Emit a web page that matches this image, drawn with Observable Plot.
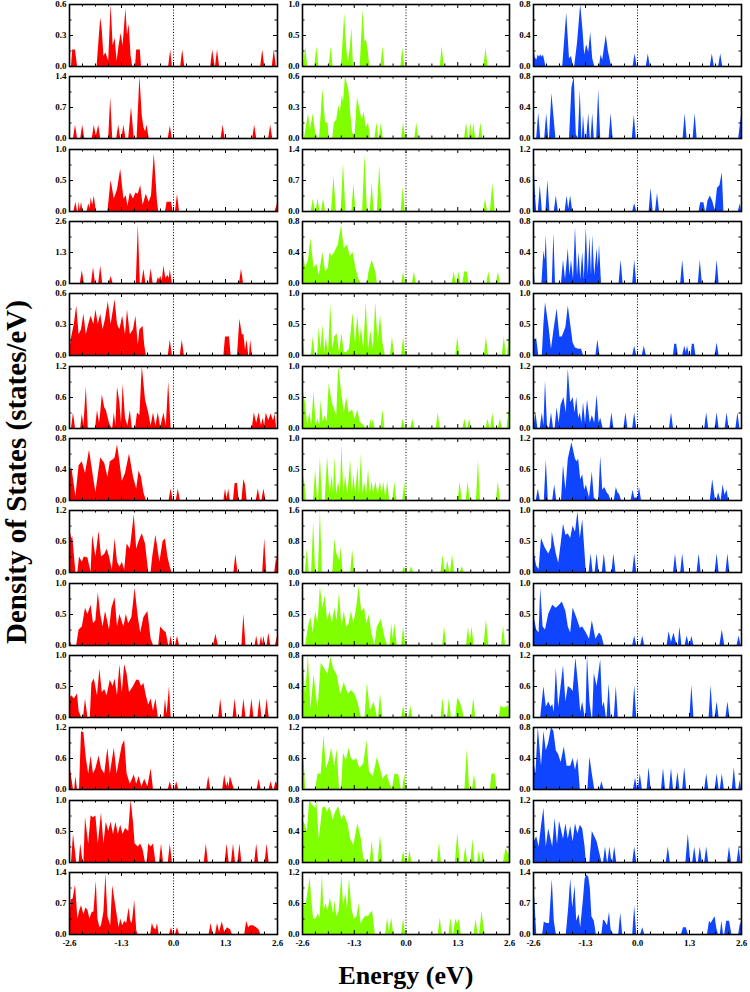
<!DOCTYPE html>
<html><head><meta charset="utf-8">
<script src="https://cdn.jsdelivr.net/npm/d3@7"></script>
<script src="https://cdn.jsdelivr.net/npm/@observablehq/plot@0.6"></script>
<style>
body{margin:0;background:#fff;}
#wrap{position:relative;width:750px;height:992px;overflow:hidden;font-family:"Liberation Serif","Times New Roman",serif;color:#000;}
.cell{position:absolute;}
.ylab{position:absolute;left:16px;top:472px;transform:translate(-50%,-50%) rotate(-90deg);font-weight:bold;font-size:29px;line-height:1;white-space:nowrap;}
.xlab{position:absolute;left:406px;top:976px;transform:translate(-50%,-50%);font-weight:bold;font-size:26px;line-height:1;white-space:nowrap;}
</style></head><body><div id="wrap"></div>
<script>
// Energy axis ticks (eV)
const energyTicks = [-2.6, -1.3, 0.0, 1.3, 2.6];
const minorEnergyTicks = [-2.275, -1.95, -1.625, -0.975, -0.65, -0.325, 0.325, 0.65, 0.975, 1.625, 1.95, 2.275];

// Axis maxima of each panel (states/eV), rows top to bottom
const redMax   = [0.6, 1.4, 1.0, 2.6, 0.6, 1.2, 0.8, 1.2, 1.0, 1.0, 1.2, 1.0, 1.4];
const greenMax = [1.0, 0.6, 1.4, 0.8, 1.0, 1.0, 1.0, 1.6, 1.0, 0.8, 1.2, 0.8, 1.2];
const blueMax  = [0.8, 0.8, 1.2, 0.8, 1.0, 1.2, 1.2, 1.0, 1.0, 1.2, 0.8, 1.2, 1.4];

// DOS curves: "energy,dos" vertices
const redDOS = [
"-2.55,0 -2.52,.16 -2.45,.16 -2.4,0 -1.91,0 -1.82,.47 -1.78,.35 -1.74,.1 -1.69,.13 -1.62,.05 -1.56,.6 -1.51,.2 -1.46,.27 -1.41,.05 -1.36,.2 -1.31,.32 -1.26,.2 -1.19,.56 -1.15,.3 -1.11,.41 -1.06,.1 -1.02,0 -.95,0 -.92,.16 -.83,.16 -.8,0 -.12,0 -.07,.16 -.03,0 .18,0 .23,.16 .28,0 .93,0 .98,.16 1.04,0 1.05,0 1.1,.16 1.15,0 2.18,0 2.23,.16 2.28,0 2.47,0 2.52,.16 2.57,0",
"-2.6,.15 -2.57,0 -2.5,0 -2.45,.3 -2.4,0 -2.32,0 -2.27,.3 -2.22,0 -2.03,0 -1.98,.3 -1.93,.05 -1.87,.3 -1.82,0 -1.62,0 -1.57,.92 -1.52,0 -1.42,0 -1.37,.3 -1.32,0 -1.29,0 -1.24,.3 -1.19,0 -1.12,0 -1.05,.7 -.98,0 -.91,0 -.84,1.4 -.78,.5 -.74,.25 -.7,.15 -.66,.3 -.61,0 -.13,0 -.08,.28 -.03,0 1.19,0 1.24,.3 1.29,0 1.98,0 2.03,.3 2.08,0 2.38,0 2.43,.3 2.48,0",
"-2.6,.15 -2.57,0 -2.49,0 -2.44,.15 -2.4,0 -2.38,0 -2.36,.15 -2.33,.02 -2.3,.15 -2.26,0 -2.16,0 -2.12,.12 -2.08,.05 -2.06,.22 -2.02,.1 -1.98,.25 -1.93,0 -1.64,0 -1.56,.5 -1.48,.2 -1.4,.35 -1.32,.68 -1.24,.2 -1.18,.25 -1.14,.08 -1.08,.3 -1,.2 -.94,.3 -.88,.28 -.82,.42 -.76,.1 -.68,.28 -.61,.15 -.55,.25 -.48,.93 -.4,.15 -.37,0 -.2,0 -.16,.15 -.05,.15 -.01,0 .05,0 .1,.28 .15,0 2.54,0 2.6,.12",
"-2.33,0 -2.28,.53 -2.23,0 -2.05,0 -2,.66 -1.95,0 -1.87,0 -1.82,.73 -1.77,0 -1.61,0 -1.56,.29 -1.51,0 -.93,0 -.88,2.46 -.83,0 -.79,0 -.74,.6 -.69,0 -.61,0 -.56,.6 -.51,0 -.42,0 -.38,.25 -.35,.15 -.32,.3 -.28,.1 -.24,.73 -.19,.2 -.14,.35 -.11,.2 -.08,.57 -.03,0 1.65,0 1.7,.6 1.75,0",
"-2.6,0 -2.56,.15 -2.48,.3 -2.42,.48 -2.36,.2 -2.3,.25 -2.24,.4 -2.18,.2 -2.12,.3 -2.06,.38 -1.99,.3 -1.94,.44 -1.88,.3 -1.82,.4 -1.76,.25 -1.7,.35 -1.63,.52 -1.56,.3 -1.46,.54 -1.4,.3 -1.34,.25 -1.27,.38 -1.2,.2 -1.15,.44 -1.08,.2 -1,.25 -.94,.38 -.88,.1 -.84,.25 -.76,.28 -.72,.1 -.68,0 -.13,0 -.08,.15 -.03,0 .17,0 .22,.15 .27,0 1.26,0 1.3,.18 1.4,.18 1.44,0 1.6,0 1.66,.35 1.72,.2 1.76,.2 1.8,.05 1.84,.15 1.88,0 1.9,0 1.93,.15 1.97,0",
"-2.55,0 -2.5,.3 -2.45,0 -2.32,0 -2.28,.28 -2.24,.05 -2.18,.8 -2.13,0 -1.95,0 -1.9,.35 -1.85,.1 -1.82,.3 -1.78,.65 -1.72,.4 -1.68,.35 -1.6,.1 -1.54,0 -1.52,0 -1.48,.3 -1.44,.05 -1.4,.8 -1.34,.5 -1.3,.1 -1.26,.85 -1.2,.2 -1.14,.05 -1.08,.35 -1.03,0 -.95,0 -.9,.3 -.84,.25 -.78,1.2 -.7,.55 -.62,.3 -.56,.05 -.5,.3 -.44,.05 -.38,.3 -.32,.02 -.24,.3 -.18,.05 -.12,.9 -.06,0 1.97,0 2.02,.3 2.08,.1 2.14,.3 2.2,.05 2.24,.2 2.28,.05 2.32,.3 2.38,.15 2.44,.28 2.5,.15 2.54,.28 2.58,0",
"-2.6,.38 -2.54,.42 -2.48,.2 -2.44,.05 -2.36,.45 -2.28,.5 -2.2,.35 -2.1,.65 -2,.3 -1.94,.1 -1.82,.55 -1.72,.48 -1.64,.3 -1.58,.5 -1.52,.52 -1.46,.55 -1.4,.72 -1.34,.5 -1.28,.25 -1.2,.35 -1.1,.6 -1,.3 -.92,.15 -.86,.38 -.8,.3 -.74,.1 -.68,0 -.11,0 -.06,.15 -.01,0 .07,0 .12,.15 .17,0 1.26,0 1.3,.15 1.34,.02 1.38,.15 1.42,0 1.5,0 1.54,.22 1.6,.22 1.64,0 1.71,0 1.76,.27 1.8,.2 1.84,0 2.07,0 2.12,.15 2.17,0 2.21,0 2.26,.15 2.31,0",
"-2.6,.85 -2.54,.65 -2.52,.7 -2.44,0 -2.39,0 -2.35,.3 -2.28,.2 -2.23,.3 -2.14,.28 -2.06,0 -2.02,.72 -1.94,.3 -1.86,.8 -1.8,.3 -1.72,.35 -1.66,.45 -1.6,.3 -1.53,.05 -1.46,.65 -1.4,.2 -1.34,.1 -1.28,.2 -1.22,.05 -1.16,.55 -1.08,.45 -.98,1.12 -.92,.45 -.86,.6 -.78,.75 -.7,.55 -.62,0 -.56,0 -.52,.3 -.44,.72 -.34,.2 -.26,.6 -.2,.65 -.14,.3 -.08,.1 -.04,0 1.51,0 1.56,.35 1.61,0 2.23,0 2.28,.65 2.33,0 2.53,0 2.58,.3 2.6,.2",
"-2.6,.1 -2.54,0 -2.42,0 -2.36,.25 -2.28,.3 -2.2,.6 -2.14,.5 -2.06,.65 -2,.35 -1.94,.4 -1.88,.85 -1.82,.5 -1.76,.3 -1.7,.55 -1.6,.25 -1.54,.6 -1.46,.77 -1.4,.3 -1.34,.5 -1.24,.3 -1.18,.5 -1.12,.35 -1.04,.45 -.96,.92 -.88,.45 -.82,.2 -.74,.45 -.64,.55 -.56,.1 -.5,0 -.37,0 -.32,.3 -.26,.25 -.18,.2 -.12,0 -.1,0 -.06,.15 -.02,0 .05,0 .1,.15 .15,0 1,0 1.06,.18 1.12,0 1.71,0 1.76,.5 1.81,0 2.04,0 2.08,.15 2.12,0 2.16,0 2.2,.15 2.23,.02 2.26,.15 2.3,0 2.34,0 2.38,.2 2.43,0 2.55,0 2.6,.15",
"-2.6,.3 -2.54,.35 -2.48,.3 -2.4,.38 -2.36,.1 -2.3,0 -2.25,0 -2.2,.3 -2.14,0 -2.08,0 -2.04,.55 -1.98,.62 -1.9,.35 -1.84,.78 -1.78,.4 -1.72,.45 -1.66,.35 -1.58,.6 -1.51,.5 -1.46,.62 -1.4,.35 -1.34,.85 -1.28,.4 -1.22,.85 -1.16,.7 -1.1,.4 -1,.5 -.92,.6 -.86,.6 -.8,.5 -.74,.55 -.68,.35 -.62,.2 -.56,.3 -.5,.1 -.44,.3 -.38,0 -.24,0 -.2,.3 -.16,.05 -.1,.5 -.06,0 1.13,0 1.18,.3 1.23,0 1.49,0 1.54,.3 1.59,0 1.71,0 1.76,.3 1.81,0 1.91,0 1.96,.3 2.01,0 2.11,0 2.16,.3 2.21,0 2.29,0 2.34,.3 2.39,0",
"-2.6,.5 -2.54,.2 -2.5,0 -2.47,0 -2.44,.25 -2.4,0 -2.35,0 -2.3,1.12 -2.24,1.1 -2.18,.6 -2.12,.3 -2.06,.65 -2,.3 -1.94,.4 -1.86,.65 -1.8,.4 -1.72,.3 -1.64,.8 -1.58,.3 -1.48,.8 -1.41,.3 -1.34,.6 -1.28,.85 -1.22,.95 -1.16,.3 -1.08,.1 -.98,.28 -.92,.1 -.86,.25 -.79,.05 -.72,.2 -.64,.05 -.56,.4 -.5,0 -.13,0 -.08,.15 -.03,0 .03,0 .08,.15 .13,0 .83,0 .88,.25 .93,0 1.23,0 1.28,.28 1.33,.05 1.36,.15 1.39,.05 1.42,.25 1.48,.1 1.52,0 2.09,0 2.14,.2 2.19,0 2.39,0 2.44,.15 2.49,0 2.52,0 2.56,.15 2.6,.1",
"-2.55,0 -2.5,.45 -2.42,0 -2.36,0 -2.32,.3 -2.26,0 -2.24,0 -2.2,.72 -2.12,.3 -2.06,.75 -2,.72 -1.94,.75 -1.88,.3 -1.8,.8 -1.74,.3 -1.68,.65 -1.62,.5 -1.56,.65 -1.5,.45 -1.44,.65 -1.38,.45 -1.32,.6 -1.26,.45 -1.2,.55 -1.12,.5 -1.06,1 -1,.65 -.96,.3 -.88,.25 -.82,.3 -.76,.2 -.7,0 -.66,0 -.62,.3 -.56,.25 -.5,.3 -.44,0 -.35,0 -.3,.3 -.25,0 -.13,0 -.08,.3 -.03,0 .77,0 .82,.3 .87,0 1.29,0 1.34,.3 1.39,0 1.45,0 1.5,.3 1.55,0 1.61,0 1.66,.3 1.71,0 2.03,0 2.08,.3 2.13,0 2.29,0 2.34,.3 2.39,0",
"-2.6,.2 -2.56,.78 -2.51,.8 -2.45,1.12 -2.39,.35 -2.34,.55 -2.3,.65 -2.24,.45 -2.19,.6 -2.14,.55 -2.09,.35 -2.03,.5 -1.99,.5 -1.93,1.2 -1.89,.35 -1.84,.15 -1.8,.2 -1.74,.5 -1.69,1.36 -1.64,.4 -1.57,.2 -1.52,1.1 -1.47,.8 -1.42,.5 -1.36,.15 -1.32,.35 -1.27,.2 -1.22,.3 -1.17,.25 -1.11,.6 -1.07,.3 -1.03,.25 -.97,.77 -.92,.1 -.89,0 -.57,0 -.53,.25 -.49,.15 -.44,.1 -.4,.25 -.36,0 -.1,0 -.05,.15 0,0 .05,0 .1,.15 .15,0 .89,0 .94,.25 .99,0 1.05,0 1.1,.25 1.15,.05 1.22,.28 1.28,.05 1.35,.15 1.43,.1 1.47,0 1.78,0 1.83,.3 1.88,.15 1.92,.2 2,.2 2.08,.15 2.14,.1 2.18,0"
];
const greenDOS = [
"-2.57,0 -2.52,.32 -2.47,0 -2.29,0 -2.24,.32 -2.19,0 -1.93,0 -1.88,.32 -1.83,0 -1.62,0 -1.54,.85 -1.49,.3 -1.45,.05 -1.4,.3 -1.36,.62 -1.32,0 -1.15,0 -1.08,.9 -1.03,.4 -.99,.42 -.95,.25 -.91,0 -.63,0 -.58,.32 -.53,0 -.13,0 -.08,.3 -.03,0 .86,0 .91,.32 .96,0 1.96,0 2.01,.3 2.06,0",
"-2.55,0 -2.45,.24 -2.4,.08 -2.33,.24 -2.27,.05 -2.2,0 -2.17,0 -2.09,.48 -2.02,.15 -1.96,.15 -1.93,0 -1.84,0 -1.8,.15 -1.74,.18 -1.69,.32 -1.65,.25 -1.6,.42 -1.57,.35 -1.52,.6 -1.47,.52 -1.43,.45 -1.39,.25 -1.34,.05 -1.28,.02 -1.22,.4 -1.16,.28 -1.1,.18 -1.05,.26 -1,.1 -.94,.15 -.89,0 -.78,0 -.73,.15 -.68,0 -.67,0 -.62,.15 -.57,0 -.11,0 -.06,.15 -.01,0 .22,0 .27,.15 .32,0 1.47,0 1.52,.15 1.57,0 1.59,0 1.63,.15 1.67,.02 1.7,.15 1.75,0 1.83,0 1.88,.15 1.93,0",
"-2.38,0 -2.33,.28 -2.28,0 -2.26,0 -2.21,.28 -2.16,0 -2.12,0 -2.07,.28 -2.02,0 -1.87,0 -1.81,.8 -1.75,0 -1.63,0 -1.57,1.08 -1.51,0 -1.36,0 -1.31,.63 -1.26,0 -1.09,0 -1.03,1.28 -.97,0 -.9,0 -.85,.63 -.8,0 -.72,0 -.66,1.05 -.6,0 -.12,0 -.07,.55 -.02,0 1.95,0 2,.28 2.05,0 2.12,0 2.18,.63 2.24,0",
"-2.6,.3 -2.58,.4 -2.52,.2 -2.45,.3 -2.39,.58 -2.31,.2 -2.24,.25 -2.18,.1 -2.09,.4 -2.02,.15 -1.95,.2 -1.91,.4 -1.86,.35 -1.79,.4 -1.7,.5 -1.62,.75 -1.55,.45 -1.47,.5 -1.4,.35 -1.33,.4 -1.26,.2 -1.18,.05 -1.12,0 -.97,0 -.93,.15 -.85,.3 -.76,.15 -.72,0 -.11,0 -.06,.15 -.01,0 .16,0 .21,.15 .26,0 1.16,0 1.21,.15 1.26,0 1.28,0 1.33,.15 1.38,0 1.43,0 1.47,.15 1.54,.15 1.58,0 2.03,0 2.08,.15 2.13,0 2.27,0 2.32,.15 2.37,0",
"-2.6,.15 -2.58,.3 -2.54,0 -2.38,0 -2.33,.3 -2.28,0 -2.22,0 -2.18,.45 -2.13,.1 -2.09,.5 -2.04,.05 -2,.3 -1.95,0 -1.89,.82 -1.84,.1 -1.79,.3 -1.73,.35 -1.67,.05 -1.61,.35 -1.55,.05 -1.49,.05 -1.42,.1 -1.33,.68 -1.27,.2 -1.21,.65 -1.16,.2 -1.12,.45 -1.06,.1 -1,.85 -.94,.1 -.88,.4 -.82,.1 -.76,.85 -.7,.2 -.64,.65 -.58,.2 -.52,0 -.39,0 -.34,.3 -.29,0 -.11,0 -.06,.3 -.01,0 1.25,0 1.3,.3 1.35,0 1.97,0 2.02,.3 2.07,0 2.42,0 2.47,.3 2.52,0 2.55,0 2.59,.3 2.6,.2",
"-2.6,.3 -2.58,.6 -2.52,.4 -2.47,.05 -2.42,.25 -2.37,.05 -2.31,.6 -2.26,.05 -2.21,.15 -2.17,.05 -2.13,.45 -2.08,.1 -2.03,.2 -1.98,.1 -1.93,.72 -1.85,.4 -1.79,.3 -1.74,.2 -1.69,1 -1.62,.6 -1.55,.25 -1.49,.5 -1.43,.25 -1.34,.3 -1.28,.15 -1.21,.3 -1.15,.1 -1.06,.05 -1,0 -.92,0 -.88,.15 -.85,.05 -.82,.15 -.78,0 -.63,0 -.58,.3 -.53,0 -.12,0 -.07,.15 -.02,0 .12,0 .17,.15 .22,0 .76,0 .81,.25 .86,0 1.43,0 1.48,.15 1.53,0 1.55,0 1.6,.15 1.65,0 2.01,0 2.06,.15 2.11,0 2.13,0 2.18,.25 2.23,0 2.32,0 2.37,.15 2.42,0 2.54,0 2.59,.3 2.6,.25",
"-2.6,0 -2.56,.4 -2.5,0 -2.32,0 -2.27,.5 -2.22,0 -2.2,0 -2.15,.7 -2.1,0 -2.03,0 -1.97,.7 -1.91,.1 -1.85,.4 -1.82,.1 -1.79,.7 -1.74,.1 -1.69,.3 -1.65,.1 -1.61,.88 -1.56,.1 -1.52,.4 -1.46,.1 -1.39,.65 -1.35,.1 -1.31,.4 -1.26,.1 -1.21,.55 -1.17,.1 -1.12,.75 -1.08,.1 -1.04,.3 -.99,.1 -.94,.5 -.9,.1 -.85,.3 -.81,.1 -.76,.3 -.7,.1 -.64,.3 -.6,.1 -.56,.3 -.51,.05 -.46,.3 -.41,0 -.33,0 -.28,.3 -.23,0 -.08,0 -.03,.3 0,0 1.31,0 1.36,.3 1.41,0 1.51,0 1.56,.3 1.61,0 1.77,0 1.82,.65 1.87,0 2.27,0 2.32,.3 2.37,0",
"-2.53,0 -2.48,.6 -2.43,0 -2.37,0 -2.32,1.3 -2.27,0 -2.2,0 -2.15,1.6 -2.1,0 -1.84,0 -1.79,.85 -1.74,.5 -1.7,.4 -1.66,.3 -1.63,.65 -1.58,0 -1.39,0 -1.34,.58 -1.29,0 -.09,0 -.04,.15 .01,0 .09,0 .14,.15 .19,0 .88,0 .93,.45 .98,0 1,0 1.05,.3 1.1,0 1.12,0 1.17,.45 1.22,0 1.36,0 1.41,.15 1.46,0",
"-2.52,0 -2.45,.3 -2.39,.45 -2.33,.2 -2.27,.55 -2.21,.35 -2.15,.95 -2.09,.6 -2.03,.8 -1.97,.4 -1.91,.55 -1.85,.35 -1.79,.6 -1.73,.4 -1.67,.85 -1.61,.3 -1.55,.55 -1.49,.3 -1.43,.35 -1.37,.55 -1.31,.35 -1.24,.6 -1.18,.95 -1.11,.55 -1.04,.6 -.98,.35 -.92,.5 -.86,.2 -.78,0 -.72,.3 -.62,.42 -.52,.1 -.46,0 -.4,0 -.36,.35 -.32,.1 -.28,.35 -.22,0 -.11,0 -.06,.3 -.01,0 .92,0 .97,.3 1.02,0 1.52,0 1.57,.3 1.61,.05 1.66,.3 1.71,0 1.96,0 2.02,.42 2.08,0 2.4,0 2.45,.32 2.5,0",
"-2.6,.4 -2.58,.7 -2.52,.3 -2.45,.8 -2.39,.1 -2.31,.55 -2.21,.1 -2.13,.7 -2.03,.62 -1.96,.55 -1.89,.78 -1.81,.62 -1.73,.55 -1.64,.3 -1.55,.45 -1.45,.3 -1.37,.35 -1.28,.3 -1.21,.2 -1.12,0 -1.03,0 -.97,.45 -.9,.1 -.88,.1 -.8,.2 -.72,0 -.69,0 -.64,.3 -.58,0 -.11,0 -.06,.15 -.01,0 .07,0 .12,.15 .17,0 .88,0 .93,.25 .98,0 1.04,0 1.09,.25 1.14,0 1.25,0 1.3,.25 1.36,.2 1.42,.1 1.46,0 1.65,0 1.7,.25 1.75,0 2.34,0 2.39,.15 2.47,.12 2.57,.15 2.6,.1",
"-2.6,.3 -2.56,.6 -2.52,0 -2.27,0 -2.21,.3 -2.13,.3 -2.06,1.05 -2,.4 -1.93,.55 -1.87,.8 -1.79,.45 -1.73,.78 -1.67,0 -1.62,0 -1.57,.7 -1.5,.55 -1.43,.8 -1.37,.6 -1.31,.55 -1.24,.6 -1.16,.4 -1.06,.5 -.98,.95 -.92,.35 -.82,.25 -.72,.62 -.64,.4 -.58,.2 -.48,.3 -.4,.1 -.34,0 -.28,.3 -.18,.28 -.12,0 -.08,0 -.03,.3 0,0 1.48,0 1.54,.78 1.6,0 1.67,0 1.72,.28 1.77,0 2.12,0 2.16,.3 2.24,.3 2.28,0",
"-2.6,.55 -2.54,.5 -2.48,.4 -2.42,.8 -2.36,.75 -2.27,.7 -2.24,.78 -2.18,.3 -2.09,.7 -2.03,.72 -1.97,.65 -1.91,.72 -1.83,.55 -1.77,.65 -1.69,.72 -1.61,.55 -1.55,.62 -1.46,.5 -1.39,.3 -1.31,.22 -1.21,.5 -1.12,.3 -1.06,.05 -.97,0 -.9,0 -.85,.28 -.8,0 -.7,0 -.64,.35 -.58,0 -.11,0 -.06,.15 -.01,0 .05,0 .1,.15 .15,0 .79,0 .84,.25 .89,0 1.24,0 1.3,.38 1.36,0 1.45,0 1.5,.2 1.55,0 1.63,0 1.68,.3 1.73,0 1.8,0 1.84,.15 1.89,0 1.9,0 1.94,.15 1.98,0 2.45,0 2.51,.18 2.59,.1 2.6,.1",
"-2.6,0 -2.57,.6 -2.51,.55 -2.41,1.1 -2.37,.7 -2.32,.3 -2.26,.3 -2.2,.4 -2.16,.3 -2.1,1.15 -2.06,.45 -2.01,.6 -1.96,.45 -1.9,.7 -1.86,.55 -1.82,.4 -1.78,.65 -1.74,.35 -1.68,.45 -1.61,1.15 -1.57,.55 -1.51,.8 -1.47,.5 -1.42,1.08 -1.36,.5 -1.3,.3 -1.23,.35 -1.18,.6 -1.13,.2 -1.07,.3 -1.01,.35 -.94,.35 -.9,.4 -.84,.45 -.77,0 -.51,0 -.46,.32 -.42,.05 -.36,.32 -.31,0 -.11,0 -.06,.3 -.01,0 .81,0 .86,.32 .91,0 1.08,0 1.13,.32 1.18,0 1.2,0 1.25,.3 1.3,.2 1.34,.3 1.39,0 1.71,0 1.76,.3 1.81,0 1.85,0 1.91,.45 1.98,0"
];
const blueDOS = [
"-2.6,.3 -2.56,.12 -2.52,.08 -2.48,.15 -2.45,.12 -2.42,.15 -2.38,.12 -2.35,.15 -2.29,0 -1.87,0 -1.77,.69 -1.7,.1 -1.65,.13 -1.6,0 -1.57,0 -1.5,.3 -1.42,.8 -1.36,.45 -1.32,.15 -1.27,.28 -1.22,.18 -1.17,.44 -1.12,.1 -1.07,0 -.95,0 -.91,.15 -.87,.08 -.78,.4 -.73,.2 -.66,.03 -.62,0 -.11,0 -.06,.16 -.01,0 .22,0 .27,.16 .32,0 1.82,0 1.87,.16 1.92,0 2.03,0 2.08,.16 2.13,0",
"-2.52,0 -2.47,.33 -2.42,0 -2.32,0 -2.27,.32 -2.22,0 -2.2,0 -2.14,.58 -2.1,.35 -2.04,0 -1.7,0 -1.64,.65 -1.58,.8 -1.53,.05 -1.48,0 -1.43,.62 -1.39,0 -1.38,0 -1.35,.3 -1.31,0 -1.27,0 -1.22,.32 -1.18,0 -1.16,0 -1.12,.32 -1.08,0 -1.02,0 -.97,.63 -.92,0 -.71,0 -.66,.32 -.61,0 -.13,0 -.08,.3 -.03,0 1.14,0 1.19,.32 1.24,0 1.39,0 1.44,.32 1.49,0 2.53,0 2.6,.3",
"-2.6,1.15 -2.55,.3 -2.52,0 -2.48,0 -2.43,.5 -2.38,0 -2.29,0 -2.24,.6 -2.19,0 -2.08,0 -2.03,.3 -1.98,0 -1.81,0 -1.76,.3 -1.72,.05 -1.67,.3 -1.62,0 -.12,0 -.07,.15 -.02,0 .29,0 .34,.45 .39,0 .45,0 .5,.35 .55,0 1.54,0 1.58,.17 1.66,.17 1.7,0 1.72,0 1.76,.2 1.82,.3 1.88,.2 1.94,.02 2,.45 2.06,.5 2.12,.75 2.16,0 2.52,0 2.57,.15 2.6,0",
"-2.6,.35 -2.56,0 -2.39,0 -2.34,.42 -2.31,.3 -2.28,.62 -2.24,0 -2.13,0 -2.09,.65 -2.05,0 -1.9,0 -1.85,.3 -1.8,.05 -1.73,.45 -1.69,.1 -1.65,.3 -1.6,.05 -1.55,.72 -1.5,.1 -1.46,.4 -1.42,.05 -1.37,.4 -1.33,.05 -1.28,.72 -1.23,.1 -1.19,.6 -1.15,.1 -1.12,.62 -1.07,.1 -1.01,.45 -.98,.2 -.95,.5 -.9,0 -.46,0 -.41,.3 -.36,0 -.12,0 -.07,.3 -.02,0 1.08,0 1.13,.3 1.18,0 1.52,0 1.57,.3 1.62,0 1.94,0 1.99,.3 2.04,0",
"-2.6,.1 -2.58,.25 -2.52,.27 -2.47,0 -2.38,0 -2.34,.5 -2.3,.85 -2.22,.5 -2.15,.1 -2.09,.4 -2.01,.75 -1.94,.3 -1.88,.3 -1.79,.45 -1.73,.8 -1.67,.5 -1.61,.2 -1.55,.12 -1.47,.1 -1.4,.1 -1.35,0 -1.04,0 -.99,.25 -.94,0 -.12,0 -.07,.15 -.02,0 .12,0 .17,.15 .22,0 .9,0 .93,.18 .98,.18 1.02,0 1.13,0 1.18,.15 1.22,.05 1.25,.15 1.3,0 1.34,0 1.37,.18 1.42,.18 1.46,0 1.94,0 1.99,.2 2.04,0",
"-2.59,0 -2.54,.3 -2.49,0 -2.43,0 -2.38,.3 -2.34,.05 -2.3,.92 -2.25,.05 -2.2,0 -2.15,.3 -2.1,0 -2.06,0 -2.01,.4 -1.96,.1 -1.91,.45 -1.84,.6 -1.78,.3 -1.73,1.15 -1.67,.5 -1.61,.6 -1.56,.3 -1.52,.6 -1.47,.2 -1.43,.3 -1.39,.1 -1.35,.5 -1.3,.1 -1.25,.55 -1.18,.1 -1.13,.25 -1.07,.1 -1.01,.65 -.96,.1 -.92,.2 -.86,0 -.69,0 -.64,.3 -.59,0 -.34,0 -.29,.3 -.24,0 -.12,0 -.07,.3 -.02,0 .8,0 .85,.3 .9,0 1.68,0 1.73,.3 1.78,0 1.94,0 1.99,.3 2.04,0 2.19,0 2.24,.3 2.29,0 2.46,0 2.51,.3 2.56,0",
"-2.53,0 -2.48,.22 -2.43,0 -2.33,0 -2.28,.78 -2.23,0 -2.12,0 -2.07,.3 -2.02,0 -1.9,0 -1.85,.68 -1.79,.2 -1.73,.8 -1.64,1.12 -1.55,.8 -1.51,.75 -1.47,.8 -1.42,.4 -1.37,.5 -1.32,.2 -1.28,.3 -1.2,.05 -1.13,.55 -1.08,.05 -1,0 -.97,0 -.92,.85 -.87,.2 -.82,.25 -.76,.15 -.71,.1 -.66,0 -.58,0 -.53,.25 -.49,.15 -.45,.12 -.4,0 -.16,0 -.11,.2 -.07,.05 .01,.05 .05,.25 .1,0 1.82,0 1.88,.4 1.95,0 1.98,0 2.03,.15 2.08,0 2.09,0 2.14,.3 2.19,.1 2.24,.2 2.28,0",
"-2.6,0 -2.58,.3 -2.52,.1 -2.46,.05 -2.4,.55 -2.31,.4 -2.22,.3 -2.15,.4 -2.13,.65 -2.03,.3 -1.97,.15 -1.91,.45 -1.85,.78 -1.79,.6 -1.73,.62 -1.67,.55 -1.61,.75 -1.55,.65 -1.49,.98 -1.43,.55 -1.37,.85 -1.31,.3 -1.28,0 -1.21,0 -1.16,.3 -1.11,0 -1.06,0 -1.01,.3 -.96,0 -.88,0 -.83,.3 -.78,0 -.64,0 -.59,.3 -.54,0 -.12,0 -.07,.3 -.02,0 .9,0 .95,.3 1,0 1.08,0 1.13,.3 1.18,0 1.49,0 1.54,.3 1.59,0 1.94,0 1.99,.3 2.04,0 2.21,0 2.26,.3 2.31,0",
"-2.6,.2 -2.58,.45 -2.52,.25 -2.46,.2 -2.42,.92 -2.36,.3 -2.3,.25 -2.22,.5 -2.12,.65 -2.03,.6 -1.95,.65 -1.88,.7 -1.79,.55 -1.73,.3 -1.67,.2 -1.61,.6 -1.52,.45 -1.43,.28 -1.37,.3 -1.28,.2 -1.2,.1 -1.13,.4 -1.04,.1 -.95,.2 -.89,.15 -.83,0 -.12,0 -.07,.15 -.02,0 .08,0 .13,.15 .18,0 .74,0 .79,.22 .85,.05 .91,.2 .97,.05 1.01,0 1.02,0 1.06,.3 1.11,0 1.19,0 1.24,.15 1.3,0 1.31,0 1.36,.15 1.41,0 2.06,0 2.12,.25 2.18,0 2.49,0 2.54,.15 2.59,0",
"-2.42,0 -2.34,.6 -2.28,.2 -2.22,.3 -2.16,.2 -2.12,.25 -2.08,.1 -2.03,.95 -1.97,.2 -1.91,.6 -1.85,1 -1.79,.3 -1.73,.6 -1.65,.55 -1.61,.5 -1.54,1.15 -1.47,.6 -1.42,.1 -1.37,.3 -1.31,0 -1.29,0 -1.25,1.2 -1.19,.3 -1.14,0 -1.12,0 -1.08,.85 -1.01,.6 -.92,1.12 -.87,.2 -.83,.3 -.78,0 -.76,0 -.71,.65 -.66,0 -.58,0 -.53,.6 -.48,0 -.12,0 -.07,.62 -.02,0 1.31,0 1.36,.62 1.41,0 1.79,0 1.84,.62 1.89,0 1.94,0 1.99,.3 2.04,0 2.21,0 2.26,.3 2.31,0",
"-2.6,.4 -2.54,.2 -2.48,.8 -2.4,.3 -2.34,.75 -2.28,.5 -2.22,.6 -2.15,.8 -2.09,.75 -2.03,.5 -1.97,.45 -1.91,.35 -1.83,.55 -1.76,.3 -1.67,.3 -1.61,.4 -1.55,.25 -1.49,.4 -1.43,0 -1.24,0 -1.19,.42 -1.13,.2 -1.07,0 -.94,0 -.89,.1 -.84,0 -.1,0 -.05,.15 0,0 .02,0 .07,.2 .12,0 .24,0 .29,.28 .34,0 .6,0 .65,.27 .7,0 .8,0 .85,.27 .9,0 .96,0 1.01,.22 1.06,0 1.13,0 1.18,.28 1.23,0 1.68,0 1.73,.2 1.78,0 1.94,0 1.99,.2 2.04,0 2.07,0 2.12,.2 2.17,0 2.37,0 2.42,.28 2.47,0 2.53,0 2.57,.12 2.6,0",
"-2.6,.1 -2.58,.4 -2.52,.5 -2.46,.3 -2.4,.7 -2.34,1.05 -2.28,.3 -2.22,.65 -2.12,.3 -2.06,.85 -2,.35 -1.95,.8 -1.85,.45 -1.79,.75 -1.73,.45 -1.67,.7 -1.61,.4 -1.55,.75 -1.49,.55 -1.43,.72 -1.37,.65 -1.31,.3 -1.28,0 -1.19,0 -1.13,.6 -1.01,.4 -.95,.2 -.89,0 -.85,0 -.8,.3 -.75,0 -.74,0 -.69,.3 -.64,0 -.62,0 -.57,.3 -.52,0 -.12,0 -.07,.3 -.02,0 .72,0 .77,.3 .82,0 1.21,0 1.27,.55 1.33,0 1.38,0 1.43,.3 1.48,0 1.52,0 1.57,.3 1.62,0 1.68,0 1.73,.3 1.78,0 2.25,0 2.3,.3 2.35,0 2.49,0 2.54,.3 2.59,0",
"-2.6,.9 -2.57,.85 -2.52,0 -2.37,0 -2.33,.28 -2.27,.25 -2.2,.25 -2.13,1.24 -2.08,.3 -2.03,0 -1.78,0 -1.72,.6 -1.67,1.26 -1.62,.6 -1.56,1.1 -1.52,.3 -1.46,.45 -1.42,.15 -1.35,.8 -1.31,1.25 -1.27,1.34 -1.22,1.3 -1.18,1.05 -1.14,.4 -1.08,.3 -1.03,0 -.89,0 -.85,.33 -.81,.3 -.75,.2 -.7,.5 -.66,.1 -.6,0 -.47,0 -.42,.48 -.37,0 -.12,0 -.07,.64 -.02,0 .08,0 .13,.15 .18,0 1.1,0 1.15,.15 1.22,.15 1.27,0 1.75,0 1.8,.3 1.84,.25 1.94,.4 1.98,.15 2.02,0 2.07,0 2.11,.3 2.15,0 2.18,0 2.23,.3 2.3,.3 2.36,0 2.53,0 2.58,.28 2.6,.2"
];

const parse = s => s.trim().split(/\s+/).map(p => { const [e, v] = p.split(",").map(Number); return {e, v}; });

const columns = [
  {series: redDOS,   max: redMax,   color: "#ff0000", left: 69,  w: 208},
  {series: greenDOS, max: greenMax, color: "#80ff00", left: 302, w: 207},
  {series: blueDOS,  max: blueMax,  color: "#0f45ff", left: 533, w: 208}
];
const H = 62, rowPitch = 72.33, firstTop = 4;
const wrap = document.getElementById("wrap");

columns.forEach((col, c) => {
  col.series.forEach((str, r) => {
    const pts = parse(str);
    const max = col.max[r];
    const yMaj = [0, max / 2, max];
    const yMin = [max / 4, 3 * max / 4];
    const last = r === col.series.length - 1;
    const ml = 30, mr = 4, mt = 6, mb = last ? 22 : 4;
    const w = col.w;
    const fig = Plot.plot({
      width: w + ml + mr, height: H + mt + mb,
      marginLeft: ml, marginRight: mr, marginTop: mt, marginBottom: mb,
      x: {domain: [-2.6, 2.6], axis: null},
      y: {domain: [0, max], axis: null},
      style: {fontFamily: '"Liberation Serif","Times New Roman",serif', fontSize: "9px", fontWeight: "bold", background: "transparent", overflow: "visible", color: "#000"},
      marks: [
        Plot.areaY(pts, {x: "e", y: "v", fill: col.color, curve: "linear", clip: true}),
        Plot.ruleX([0], {stroke: "#000", strokeWidth: 1, strokeDasharray: "1,1.8"}),
        Plot.tickX(energyTicks, {x: d => d, insetTop: H - 4, stroke: "#000"}),
        Plot.tickX(energyTicks, {x: d => d, insetBottom: H - 4, stroke: "#000"}),
        Plot.tickX(minorEnergyTicks, {x: d => d, insetTop: H - 2.5, stroke: "#000"}),
        Plot.tickX(minorEnergyTicks, {x: d => d, insetBottom: H - 2.5, stroke: "#000"}),
        Plot.tickY(yMaj, {y: d => d, insetRight: w - 4, stroke: "#000"}),
        Plot.tickY(yMaj, {y: d => d, insetLeft: w - 4, stroke: "#000"}),
        Plot.tickY(yMin, {y: d => d, insetRight: w - 2.5, stroke: "#000"}),
        Plot.tickY(yMin, {y: d => d, insetLeft: w - 2.5, stroke: "#000"}),
        Plot.frame({stroke: "#000", strokeWidth: 1.6}),
        Plot.axisY({ticks: yMaj, tickSize: 0, tickPadding: 3, label: null, tickFormat: d => d.toFixed(1)}),
        last ? Plot.axisX({ticks: energyTicks, tickSize: 0, tickPadding: 5, label: null, tickFormat: d => d.toFixed(1)}) : null
      ]
    });
    const div = document.createElement("div");
    div.className = "cell";
    div.style.left = (col.left - ml) + "px";
    div.style.top = (firstTop + r * rowPitch - mt) + "px";
    div.appendChild(fig);
    wrap.appendChild(div);
  });
});

const yl = document.createElement("div");
yl.className = "ylab";
yl.textContent = "Density of States (states/eV)";
wrap.appendChild(yl);
const xl = document.createElement("div");
xl.className = "xlab";
xl.textContent = "Energy (eV)";
wrap.appendChild(xl);
</script>
</body></html>
